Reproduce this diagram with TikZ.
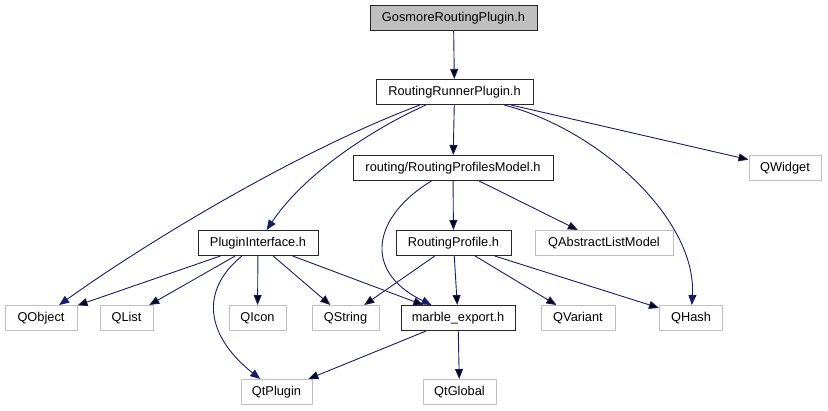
\documentclass[tikz,border=0pt]{standalone}
\usepackage{fontspec}
\setmainfont{Liberation Sans}
\usetikzlibrary{arrows.meta}
\definecolor{edgeblue}{HTML}{191970}
\definecolor{leafgray}{HTML}{BFBFBF}

\begin{document}
\begin{tikzpicture}[x=1pt,y=-1pt,
  every node/.style={font=\fontsize{12.8}{15}\selectfont},
  main/.style={rectangle,draw=black!85,line width=1pt,fill=white,minimum height=25pt,inner sep=0pt},
  leaf/.style={rectangle,draw=leafgray,line width=1pt,fill=white,minimum height=25pt,inner sep=0pt},
  dep/.style={draw=edgeblue,line width=0.9pt,-{Triangle[length=10pt,width=8pt]}}]
  \useasboundingbox (0,0) rectangle (828,411);
  			\node[main,fill=leafgray,minimum width=167pt] (gosmore) at (453.5,18) {GosmoreRoutingPlugin.h};
  			\node[main,minimum width=157pt] (runner) at (454.5,92) {RoutingRunnerPlugin.h};
  			\node[main,minimum width=200pt] (model) at (453,168) {routing/RoutingProfilesModel.h};
  			\node[leaf,minimum width=72pt] (qwidget) at (785,168) {QWidget};
  			\node[main,minimum width=120pt] (plugin) at (258,243) {PluginInterface.h};
  			\node[main,minimum width=115pt] (profile) at (453.5,243) {RoutingProfile.h};
  			\node[leaf,minimum width=138pt] (qalm) at (604,243) {QAbstractListModel};
  			\node[leaf,minimum width=72pt] (qobject) at (41,318) {QObject};
  			\node[leaf,minimum width=53pt] (qlist) at (126.5,318) {QList};
  			\node[leaf,minimum width=57pt] (qicon) at (257.5,318) {QIcon};
  			\node[leaf,minimum width=67pt] (qstring) at (345.5,318) {QString};
  			\node[main,minimum width=114pt] (marble) at (458,318) {marble\_export.h};
  			\node[leaf,minimum width=74pt] (qvariant) at (578,318) {QVariant};
  			\node[leaf,minimum width=63pt] (qhash) at (691,318) {QHash};
  			\node[leaf,minimum width=71pt] (qtplugin) at (276.5,392) {QtPlugin};
  			\node[leaf,minimum width=73pt] (qtglobal) at (459.5,392) {QtGlobal};
  			\path[dep]
  			(gosmore) edge (runner)
  			(runner) edge (model)
  			(runner) edge (qwidget)
  			(model) edge (profile)
  			(model) edge (qalm)
  			(plugin) edge (qobject)
  			(plugin) edge (qlist)
  			(plugin) edge (qicon)
  			(plugin) edge (qstring)
  			(plugin) edge (marble)
  			(profile) edge (qstring)
  			(profile) edge (marble)
  			(profile) edge (qvariant)
  			(profile) edge (qhash)
  			(marble) edge (qtplugin)
  			(marble) edge (qtglobal);
  			\draw[dep] (runner) .. controls (360,135) and (300,180) .. (plugin);
  			\draw[dep] (runner) .. controls (300,150) and (150,240) .. (qobject);
  			\draw[dep] (runner) .. controls (600,130) and (697,220) .. (qhash);
  			\draw[dep] (model) .. controls (375,215) and (360,270) .. (marble);
  			\draw[dep] (plugin) .. controls (200,290) and (205,335) .. (qtplugin);
		\end{tikzpicture}
\end{document}
